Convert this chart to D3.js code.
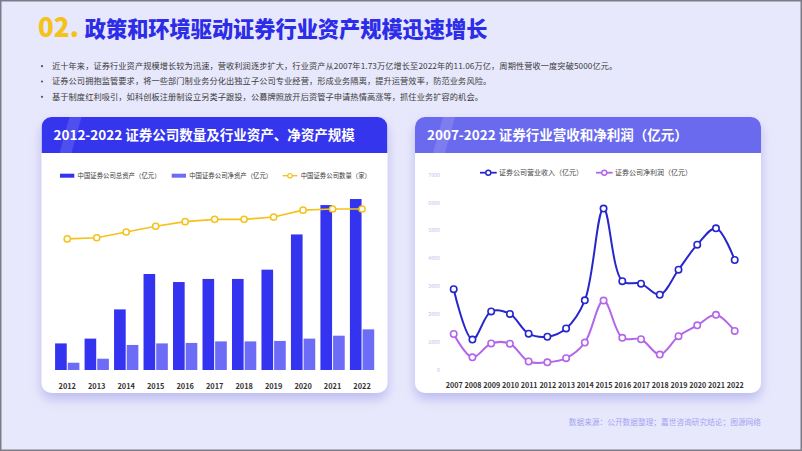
<!DOCTYPE html>
<html><head><meta charset="utf-8">
<script src="https://cdn.jsdelivr.net/npm/d3@7/dist/d3.min.js"></script>
<style>
html,body{margin:0;padding:0;background:#e8e8fc;}
svg{display:block;font-family:"Noto Sans CJK SC","Noto Sans",sans-serif;}
</style></head>
<body><svg id="c" width="802" height="451"></svg>
<script>
// ---------- data ----------
const titleNum = "02.";
const titleText = "政策和环境驱动证券行业资产规模迅速增长";
const bullets = [
  "近十年来，证券行业资产规模增长较为迅速，营收利润逐步扩大，行业资产从2007年1.73万亿增长至2022年的11.06万亿，周期性营收一度突破5000亿元。",
  "证券公司拥抱监管要求，将一些部门制业务分化出独立子公司专业经营，形成业务隔离，提升运营效率，防范业务风险。",
  "基于制度红利吸引，如科创板注册制设立另类子跟投，公募牌照放开后资管子申请热情高涨等，抓住业务扩容的机会。"
];
const leftTitle = "2012-2022 证券公司数量及行业资产、净资产规模";
const rightTitle = "2007-2022 证券行业营收和净利润（亿元）";
const source = "数据来源：公开数据整理；嘉世咨询研究结论；图源网络";

const yearsA = ["2012","2013","2014","2015","2016","2017","2018","2019","2020","2021","2022"];
const totalAssets = [17200, 20300, 39200, 62100, 56900, 58900, 58900, 64900, 87700, 106700, 110600];
const netAssets   = [4700, 7300, 16200, 17200, 17500, 18500, 18500, 18800, 20300, 22200, 26300];
const companyCount = [114, 115, 120, 125, 129, 131, 131, 133, 139, 140, 140];
const legendA = ["中国证券公司总资产（亿元）", "中国证券公司净资产（亿元）", "中国证券公司数量（家）"];

const yearsB = ["2007","2008","2009","2010","2011","2012","2013","2014","2015","2016","2017","2018","2019","2020","2021","2022"];
const revenue = [2880, 1070, 2080, 1990, 1280, 1170, 1470, 2480, 5780, 3170, 3080, 2680, 3580, 4480, 5070, 3930];
const profit  = [1270, 430, 930, 920, 280, 250, 400, 960, 2470, 1130, 1080, 530, 1190, 1580, 1960, 1380];
const yTicksB = [0,1000,2000,3000,4000,5000,6000,7000];
const legendB = ["证券公司营业收入（亿元）", "证券公司净利润（亿元）"];

// ---------- styles ----------
const C = {bg:"#e8e8fc", gold:"#f4c21a", blue:"#2d2de8", total:"#3333f0", net:"#6c6cf6",
  hdrL:"#3535ee", hdrR:"#6a6aee", rev:"#2626cc", prof:"#b466ea", text:"#3a3a3a"};

const svg = d3.select("#c");
const defs = svg.append("defs");
const f = defs.append("filter").attr("id","sh").attr("x","-10%").attr("y","-10%").attr("width","120%").attr("height","130%");
f.append("feDropShadow").attr("dx",0).attr("dy",6).attr("stdDeviation",6).attr("flood-color","#a8a8ec").attr("flood-opacity",0.7);

svg.append("rect").attr("width",802).attr("height",451).attr("fill",C.bg);

// title
const t = svg.append("text").attr("x",38).attr("y",37).attr("font-weight",900);
t.append("tspan").attr("fill",C.gold).attr("font-size",26).text(titleNum);
t.append("tspan").attr("fill",C.blue).attr("font-size",21.2).attr("dx",6).text(titleText);

// bullets
bullets.forEach((b,i)=>{
  const y = 69 + i*15.3;
  svg.append("circle").attr("cx",42).attr("cy",y-2.8).attr("r",1.1).attr("fill","#555");
  svg.append("text").attr("x",52).attr("y",y).attr("font-size",8.2).attr("letter-spacing",0.1).attr("fill",C.text).text(b);
});

// cards
function card(x,w,color,title){
  const g = svg.append("g");
  const y=117, h=276, r=10, hh=36;
  g.append("rect").attr("x",x).attr("y",y).attr("width",w).attr("height",h).attr("rx",r).attr("fill","#fff").attr("filter","url(#sh)");
  const cp = "c"+Math.round(x);
  defs.append("clipPath").attr("id",cp).append("rect").attr("x",x).attr("y",y).attr("width",w).attr("height",h).attr("rx",r);
  const hg = g.append("g").attr("clip-path",`url(#${cp})`);
  hg.append("rect").attr("x",x).attr("y",y).attr("width",w).attr("height",hh).attr("fill",color);
  hg.append("path").attr("d",`M${x+28},${y} L${x+40},${y} L${x+30},${y+hh} L${x+18},${y+hh} Z`).attr("fill","#fff").attr("opacity",0.13);
  g.append("text").attr("x",x+12).attr("y",y+23).attr("fill","#fff").attr("font-size",13.5).attr("font-weight",700).text(title);
}
card(41.5,346,C.hdrL,leftTitle);
card(415,346,C.hdrR,rightTitle);

// ---------- left chart ----------
const base = 370;
const xA = d3.scaleBand().domain(yearsA).range([52.5,376.8]).paddingInner(0.176).paddingOuter(0.088);
const xSub = d3.scaleBand().domain(["t","n"]).range([0,xA.bandwidth()]).paddingInner(0.08);
const yA = d3.scaleLinear().domain([0,120000]).range([base,184.5]);
const yCnt = d3.scaleLinear().domain([0,160]).range([base,186]);
const gA = svg.append("g");
gA.selectAll(".bt").data(yearsA).join("rect")
  .attr("x",d=>xA(d)+xSub("t")).attr("width",xSub.bandwidth())
  .attr("y",(d,i)=>yA(totalAssets[i])).attr("height",(d,i)=>base-yA(totalAssets[i])).attr("fill",C.total);
gA.selectAll(".bn").data(yearsA).join("rect")
  .attr("x",d=>xA(d)+xSub("n")).attr("width",xSub.bandwidth())
  .attr("y",(d,i)=>yA(netAssets[i])).attr("height",(d,i)=>base-yA(netAssets[i])).attr("fill",C.net);
const cx = d=>xA(d)+xA.bandwidth()/2;
gA.append("path").datum(yearsA).attr("fill","none").attr("stroke",C.gold).attr("stroke-width",1.6)
  .attr("d",d3.line().x(cx).y((d,i)=>yCnt(companyCount[i])));
gA.selectAll(".pc").data(yearsA).join("circle").attr("cx",cx).attr("cy",(d,i)=>yCnt(companyCount[i]))
  .attr("r",3.1).attr("fill","#fff").attr("stroke",C.gold).attr("stroke-width",1.5);
const axA = d3.axisBottom(xA).tickSize(0).tickPadding(0);
const axAg = svg.append("g").attr("transform",`translate(0,${base})`).call(axA);
axAg.select(".domain").remove();
axAg.selectAll("text").attr("y",14).attr("font-size",7.4).attr("font-weight",700).attr("fill","#333").attr("font-family","Noto Sans CJK SC");

// left legend
const lgY = 175.7;
[[60,C.total],[171.7,C.net]].forEach(([x,c],i)=>{
  svg.append("rect").attr("x",x).attr("y",lgY-2).attr("width",14.3).attr("height",4).attr("fill",c);
  svg.append("text").attr("x",x+17.5).attr("y",lgY+2.3).attr("font-size",6.4).attr("fill",C.text).text(legendA[i]);
});
svg.append("line").attr("x1",282.7).attr("x2",297.3).attr("y1",lgY).attr("y2",lgY).attr("stroke",C.gold).attr("stroke-width",1.4);
svg.append("circle").attr("cx",290).attr("cy",lgY).attr("r",2.2).attr("fill","#fff").attr("stroke",C.gold).attr("stroke-width",1.2);
svg.append("text").attr("x",300.7).attr("y",lgY+2.3).attr("font-size",6.4).attr("fill",C.text).text(legendA[2]);

// ---------- right chart ----------
const xB = d3.scalePoint().domain(yearsB).range([453.7,734.7]);
const yB = d3.scaleLinear().domain([0,7000]).range([369.3,174.6]);
const gB = svg.append("g");
const ayB = d3.axisLeft(yB).tickValues(yTicksB).tickSize(0).tickPadding(0).tickFormat(d3.format("d"));
const ayBg = svg.append("g").attr("transform","translate(440,0)").call(ayB);
ayBg.select(".domain").remove();
ayBg.selectAll("text").attr("font-size",5.3).attr("fill","#bdbdee").attr("font-family","Noto Sans CJK SC");
const axB = d3.axisBottom(xB).tickSize(0).tickPadding(0);
const axBg = svg.append("g").attr("transform",`translate(0,369.3)`).call(axB);
axBg.select(".domain").remove();
axBg.selectAll("text").attr("y",14).attr("font-size",7.2).attr("font-weight",700).attr("fill","#333").attr("font-family","Noto Sans CJK SC");

[[revenue,C.rev],[profit,C.prof]].forEach(([vals,c])=>{
  gB.append("path").datum(yearsB).attr("fill","none").attr("stroke",c).attr("stroke-width",2)
    .attr("d",d3.line().x(d=>xB(d)).y((d,i)=>yB(vals[i])).curve(d3.curveCatmullRom.alpha(0.5)));
  gB.selectAll(null).data(yearsB).join("circle").attr("cx",d=>xB(d)).attr("cy",(d,i)=>yB(vals[i]))
    .attr("r",3.2).attr("fill","#fff").attr("stroke",c).attr("stroke-width",1.6);
});
// right legend
const lgYB = 172.7;
[[480,C.rev],[596,C.prof]].forEach(([x,c],i)=>{
  svg.append("line").attr("x1",x).attr("x2",x+16.7).attr("y1",lgYB).attr("y2",lgYB).attr("stroke",c).attr("stroke-width",1.8);
  svg.append("circle").attr("cx",x+8.3).attr("cy",lgYB).attr("r",2.5).attr("fill","#fff").attr("stroke",c).attr("stroke-width",1.4);
  svg.append("text").attr("x",x+19).attr("y",lgYB+2.5).attr("font-size",7).attr("fill","#444").text(legendB[i]);
});

// source
svg.append("text").attr("x",761).attr("y",424.5).attr("text-anchor","end").attr("font-size",7.7).attr("fill","#a4a4f0").text(source);

// frame border
svg.append("rect").attr("x",0.75).attr("y",0.75).attr("width",800.5).attr("height",449.5).attr("fill","none").attr("stroke","#7c7c88").attr("stroke-width",1.5);
</script></body></html>
